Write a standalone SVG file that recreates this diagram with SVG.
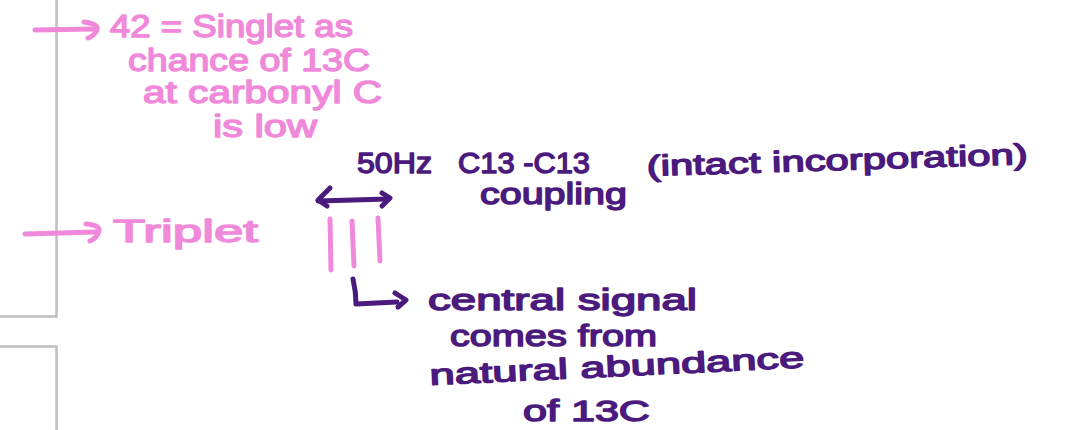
<svg xmlns="http://www.w3.org/2000/svg" width="1088" height="430" viewBox="0 0 1088 430">
<style>
.bg{fill:#ffffff}
.frame{fill:none;stroke:#bfbfbf;stroke-width:2.5}
.pk{fill:#f089d9;stroke:#f089d9;stroke-width:1.4;stroke-linejoin:round;font-family:"Liberation Sans",Arial,sans-serif;font-size:31px}
.pu{fill:#4b1a7d;stroke:#4b1a7d;stroke-width:1.4;stroke-linejoin:round;font-family:"Liberation Sans",Arial,sans-serif;font-size:29px}
.pkl{fill:none;stroke:#f089d9;stroke-width:5;stroke-linecap:round;stroke-linejoin:round}
.pul{fill:none;stroke:#4b1a7d;stroke-width:5;stroke-linecap:round;stroke-linejoin:round}
</style>
<rect class="bg" x="0" y="0" width="1088" height="430"/>
<g id="frames">
<path class="frame" d="M56.5,0 V316.5 H0"/>
<path class="frame" d="M0,346.5 H56.5 V430"/>
</g>
<g id="connectors">
<path class="pkl" d="M35,30 L93,29"/>
<path class="pkl" d="M84,22 Q99,24 97,30 Q94,36 88,38"/>
<path class="pkl" d="M25,234 L95,232"/>
<path class="pkl" d="M86,224 Q100,225 99,231 Q97,238 90,241"/>
<path class="pul" d="M318,201 L388,199"/>
<path class="pul" d="M330,188 L318,200 L327,206"/>
<path class="pul" d="M382,193 L390,198 L382,206"/>
<path class="pul" d="M353,279 Q356,292 356,304 L397,302"/>
<path class="pul" d="M395,293 L406,300 L398,307"/>
</g>
<g id="triplet-lines">
<path class="pkl" d="M330,219 L331,270"/>
<path class="pkl" d="M352,221 L354,266"/>
<path class="pkl" d="M378,218 L380,261"/>
</g>
<g id="note-singlet">
<text class="pk" x="110" y="37" textLength="243" lengthAdjust="spacingAndGlyphs">42 = Singlet as</text>
<text class="pk" x="128" y="71" textLength="242" lengthAdjust="spacingAndGlyphs">chance of 13C</text>
<text class="pk" x="143" y="103" textLength="239" lengthAdjust="spacingAndGlyphs">at carbonyl C</text>
<text class="pk" x="213" y="137" textLength="104" lengthAdjust="spacingAndGlyphs">is low</text>
</g>
<g id="note-triplet">
<text class="pk" x="113" y="242" textLength="145" lengthAdjust="spacingAndGlyphs">Triplet</text>
</g>
<g id="note-coupling">
<text class="pu" x="357" y="173" textLength="75" lengthAdjust="spacingAndGlyphs" font-size="26">50Hz</text>
<text class="pu" x="458" y="173" textLength="132" lengthAdjust="spacingAndGlyphs" font-size="26">C13 -C13</text>
<text class="pu" x="480" y="204" textLength="147" lengthAdjust="spacingAndGlyphs" font-size="23">coupling</text>
<text class="pu" x="647" y="176" textLength="381" lengthAdjust="spacingAndGlyphs" font-size="32" transform="rotate(-1.8 647 176)">(intact incorporation)</text>
</g>
<g id="note-central">
<text class="pu" x="428" y="310" textLength="269" lengthAdjust="spacingAndGlyphs" font-size="31">central signal</text>
<text class="pu" x="450" y="346" textLength="207" lengthAdjust="spacingAndGlyphs" font-size="31">comes from</text>
<text class="pu" x="430" y="385" textLength="375" lengthAdjust="spacingAndGlyphs" font-size="31" transform="rotate(-2.7 430 385)">natural abundance</text>
<text class="pu" x="523" y="421" textLength="127" lengthAdjust="spacingAndGlyphs" font-size="31">of 13C</text>
</g>
</svg>
